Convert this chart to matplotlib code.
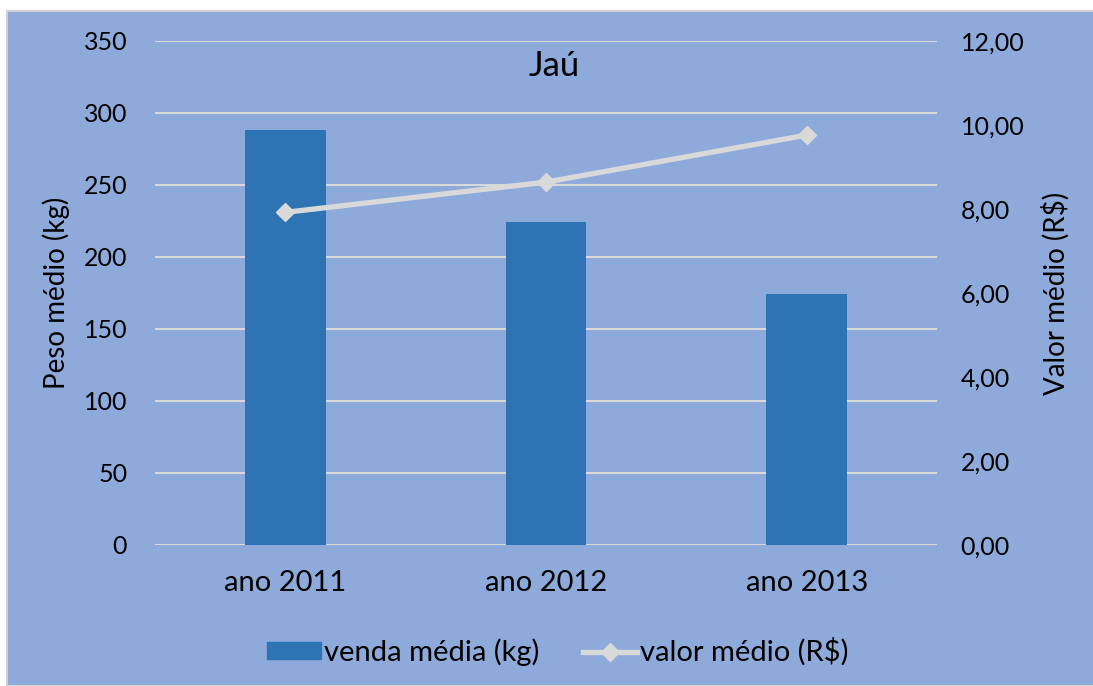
import matplotlib.pyplot as plt
from matplotlib.patches import Rectangle
from matplotlib.lines import Line2D

plt.rcParams['font.family'] = ['Lato', 'DejaVu Sans']

categorias = ['ano 2011', 'ano 2012', 'ano 2013']
venda_media = [288, 224, 174]
valor_medio = [7.92, 8.64, 9.76]
ticks_esq = [0, 50, 100, 150, 200, 250, 300, 350]
ticks_dir = [0, 2, 4, 6, 8, 10, 12]

fundo = '#8EAADB'
barra = '#2E74B5'
cinza = '#D9D9D9'

fig = plt.figure(figsize=(10.93, 6.86), dpi=100)
fig.patch.set_facecolor('white')
fig.patches.append(Rectangle((7 / 1093, 0), 1, 1 - 11 / 686, transform=fig.transFigure,
                             facecolor=fundo, edgecolor='#D0D0D0', linewidth=1.5, zorder=-1))

ax = fig.add_axes([155 / 1093, 1 - 545 / 686, (937 - 155) / 1093, (545 - 41) / 686])
ax.set_facecolor('none')
x = range(len(categorias))
ax.bar(x, venda_media, width=0.31, color=barra, zorder=2)
ax.set_ylim(0, 350)
ax.set_xlim(-0.5, 2.5)
ax.set_yticks(ticks_esq)
ax.set_xticks(list(x))
ax.set_xticklabels(categorias)
ax.grid(axis='y', color=cinza, linewidth=1.5, zorder=0)
ax.set_axisbelow(True)
for s in ax.spines.values():
    s.set_visible(False)
ax.tick_params(axis='y', length=0, labelsize=18, pad=20)
ax.tick_params(axis='x', length=0, labelsize=21, pad=18)
ax.set_ylabel('Peso médio (kg)', fontsize=20, labelpad=10)

ax2 = ax.twinx()
ax2.plot(x, valor_medio, color=cinza, linewidth=3.8, marker='D', markersize=9, zorder=3)
ax2.set_ylim(0, 12)
ax2.set_yticks(ticks_dir)
ax2.set_yticklabels([f'{v:.2f}'.replace('.', ',') for v in ticks_dir])
for s in ax2.spines.values():
    s.set_visible(False)
ax2.tick_params(length=0, labelsize=18, pad=17)
ax2.set_ylabel('Valor médio (R$)', fontsize=20, labelpad=12)

ax.set_title('Jaú', fontsize=25, x=0.51, y=0.915)

handles = [Rectangle((0, 0), 1, 1, color=barra),
           Line2D([], [], color=cinza, linewidth=3.8, marker='D', markersize=9)]
fig.legend(handles, ['venda média (kg)', 'valor médio (R$)'], loc='center',
           bbox_to_anchor=(558 / 1093, 1 - 652 / 686), ncol=2, frameon=False,
           fontsize=21, handlelength=1.85, handleheight=0.5, handletextpad=0.1,
           columnspacing=1.5)

fig.savefig('out.png', dpi=100)
